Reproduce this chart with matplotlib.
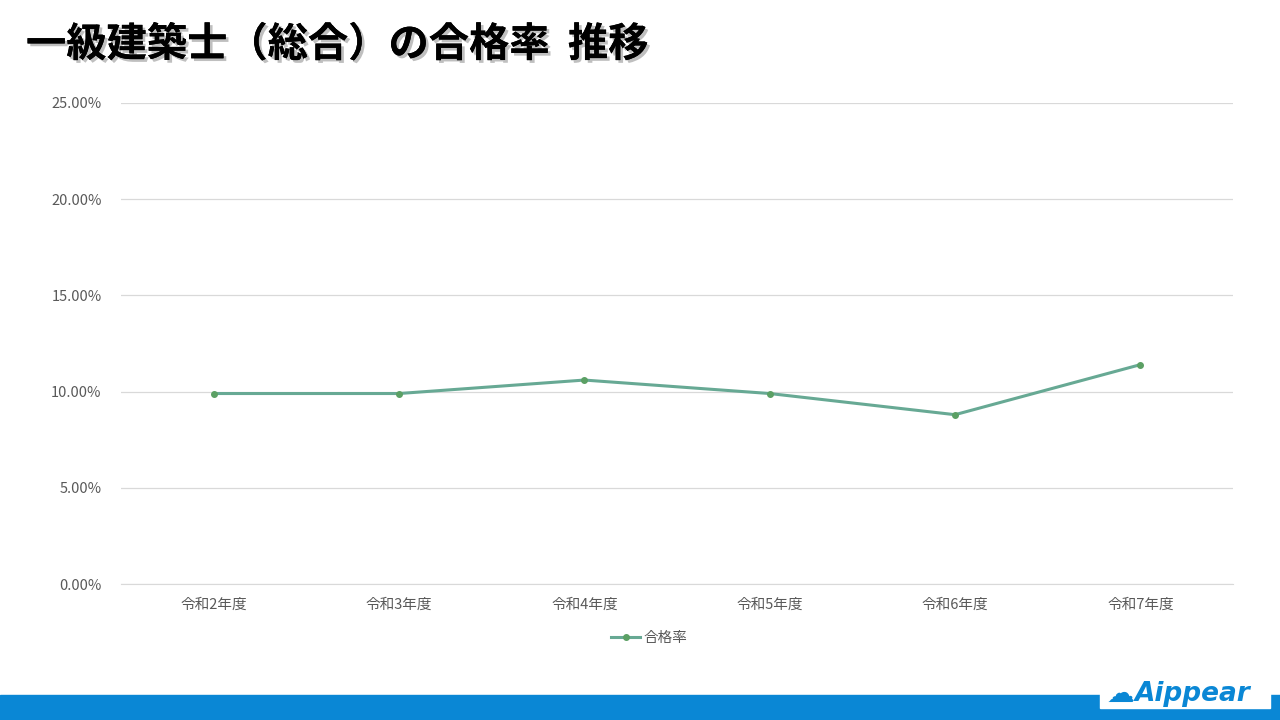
import matplotlib
matplotlib.use("Agg")
import matplotlib.pyplot as plt
import matplotlib.patheffects as pe
from matplotlib.patches import Rectangle
from matplotlib.ticker import PercentFormatter

plt.rcParams['font.family'] = ['Noto Sans CJK JP', 'DejaVu Sans']

categories = ["令和2年度", "令和3年度", "令和4年度", "令和5年度", "令和6年度", "令和7年度"]
pass_rate = [9.9, 9.9, 10.6, 9.9, 8.8, 11.4]
series_name = "合格率"
title = "一級建築士（総合）の合格率  推移"
line_color = "#67A994"

fig = plt.figure(figsize=(12.8, 7.2), dpi=100)
ax = fig.add_axes([121 / 1280, 136 / 720, 1112 / 1280, 481 / 720])
x = range(len(categories))
ax.plot(x, pass_rate, "-o", color=line_color, linewidth=2.2, markersize=4,
        markerfacecolor="#5BA064", markeredgecolor="#5BA064", label=series_name)
ax.set_xlim(-0.5, len(categories) - 0.5)
ax.set_ylim(0, 25)
ax.set_yticks([0, 5, 10, 15, 20, 25])
ax.yaxis.set_major_formatter(PercentFormatter(decimals=2))
ax.set_xticks(list(x))
ax.set_xticklabels(categories)
ax.tick_params(length=0, labelsize=10.5, colors="#595959", pad=10)
ax.tick_params(axis="y", pad=14)
ax.grid(axis="y", color="#D9D9D9", linewidth=0.9)
ax.set_axisbelow(True)
for s in ["top", "right", "left"]:
    ax.spines[s].set_visible(False)
ax.spines["bottom"].set_color("#D9D9D9")
ax.legend(loc="upper center", bbox_to_anchor=(0.475, -0.07), frameon=False,
          fontsize=10.5, labelcolor="#595959", handlelength=2, handletextpad=0.2)

fig.text(26 / 1280, 1 - 45 / 720, title, fontsize=29, fontweight="bold",
         va="center", ha="left", color="black",
         path_effects=[pe.withSimplePatchShadow(offset=(2, -2), alpha=0.25),
                       pe.Normal()])

# bottom bar and logo
fig.patches.append(Rectangle((0, 0), 1, 25 / 720, transform=fig.transFigure,
                             color="#0A87D5", zorder=0))
fig.patches.append(Rectangle((1100 / 1280, 12 / 720), 170 / 1280, 32 / 720,
                             transform=fig.transFigure, color="white", zorder=1))
fig.text(1120 / 1280, 26 / 720, "☁", fontsize=20, color="#0A87D5",
         ha="center", va="center", family=["DejaVu Sans"])
fig.text(1193 / 1280, 26 / 720, "Aippear", fontsize=19, fontweight="bold",
         fontstyle="italic", color="#0A87D5", ha="center", va="center",
         family=["DejaVu Sans"])

fig.savefig("out.png", dpi=100)
